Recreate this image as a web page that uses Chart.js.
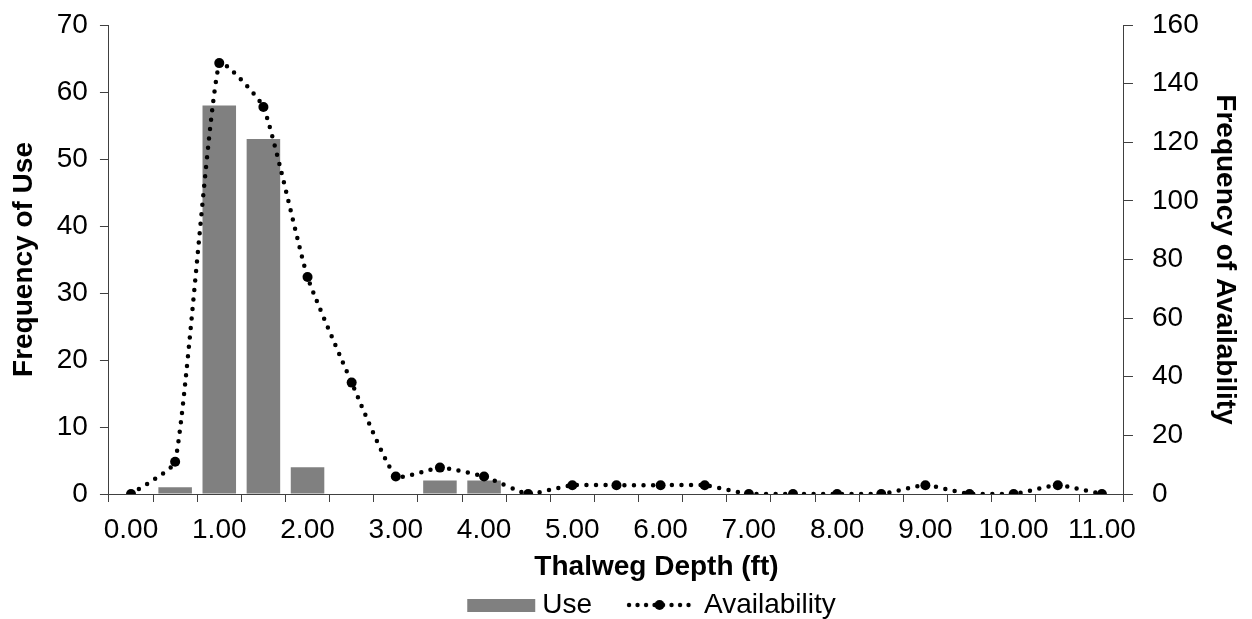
<!DOCTYPE html>
<html>
<head>
<meta charset="utf-8">
<script src="https://cdn.jsdelivr.net/npm/chart.js@4"></script>
<style>
  body { margin: 0; background: #fff; }
  canvas { display: block; }
</style>
</head>
<body>
<canvas id="chart" width="1252" height="619"></canvas>
<script>
// depth classes (ft)
const categories = ['0.00', '0.50', '1.00', '1.50', '2.00', '2.50', '3.00', '3.50', '4.00', '4.50', '5.00', '5.50',
    '6.00', '6.50', '7.00', '7.50', '8.00', '8.50', '9.00', '9.50', '10.00', '10.50', '11.00'];
const useCounts = [0, 1, 58, 53, 4, 0, 0, 2, 2, 0, 0, 0, 0, 0, 0, 0, 0, 0, 0, 0, 0, 0, 0];
const availabilityCounts = [0, 11, 147, 132, 74, 38, 6, 9, 6, 0, 3, 3, 3, 3, 0, 0, 0, 0, 3, 0, 0, 3, 0];
const leftTicks = [0, 10, 20, 30, 40, 50, 60, 70];
const rightTicks = [0, 20, 40, 60, 80, 100, 120, 140, 160];

const xTitle = 'Thalweg Depth (ft)';
const fontFamily = '"Liberation Sans", Arial, sans-serif';
const axisColor = '#404040';
const barColor = '#808080';

// legend swatches
function makeUseSwatch() {
    const c = document.createElement('canvas');
    c.width = 112;
    c.height = 14;
    const g = c.getContext('2d');
    g.fillStyle = barColor;
    g.fillRect(43, 1, 68, 13);
    return c;
}

function makeAvailSwatch() {
    const c = document.createElement('canvas');
    c.width = 112;
    c.height = 14;
    const g = c.getContext('2d');
    g.fillStyle = '#000';
    for (let x = 43; x <= 105; x += 8.5) {
        g.beginPath();
        g.arc(x, 7, 2.2, 0, Math.PI * 2);
        g.fill();
    }
    g.beginPath();
    g.arc(73.5, 7, 5, 0, Math.PI * 2);
    g.fill();
    return c;
}

const useSwatch = makeUseSwatch();
const availSwatch = makeAvailSwatch();

// nudges the legend and draws the x title off-centre like the original
const layoutTweaks = {
    id: 'layoutTweaks',
    afterLayout(chart) {
        const lg = chart.legend;
        lg.left += 9;
        lg.right += 9;
        lg.top += 10;
        lg.bottom += 10;
    },
    afterDraw(chart) {
        const x = chart.scales.x;
        const ctx = chart.ctx;
        ctx.save();
        ctx.font = 'bold 28px ' + fontFamily;
        ctx.fillStyle = '#000';
        ctx.textAlign = 'center';
        ctx.textBaseline = 'middle';
        ctx.fillText(xTitle, (x.left + x.right) / 2 + 40, x.bottom - 12);
        ctx.restore();
    }
};

const ctx = document.getElementById('chart').getContext('2d');

new Chart(ctx, {
    type: 'bar',
    data: {
        labels: categories,
        datasets: [
            {
                type: 'line',
                label: 'Availability',
                data: availabilityCounts,
                yAxisID: 'y1',
                order: 0,
                borderColor: '#000',
                borderWidth: 4.5,
                borderDash: [0, 9.5],
                borderCapStyle: 'round',
                tension: 0.15,
                pointRadius: 5,
                pointHoverRadius: 5,
                pointBackgroundColor: '#000',
                pointBorderColor: '#000',
                pointBorderWidth: 0,
                fill: false
            },
            {
                type: 'bar',
                label: 'Use',
                data: useCounts,
                yAxisID: 'y',
                order: 1,
                backgroundColor: barColor,
                borderWidth: 0,
                barPercentage: 0.76,
                categoryPercentage: 1
            }
        ]
    },
    options: {
        responsive: false,
        animation: false,
        layout: {
            padding: { top: 25, left: 2, right: 4, bottom: 0 }
        },
        plugins: {
            tooltip: { enabled: false },
            legend: {
                position: 'bottom',
                labels: {
                    color: '#000',
                    font: { size: 28, family: fontFamily },
                    padding: 2,
                    usePointStyle: true,
                    pointStyleWidth: 96,
                    generateLabels: () => [
                        { text: 'Use', pointStyle: useSwatch, fontColor: '#000', hidden: false, datasetIndex: 1, lineWidth: 0 },
                        { text: 'Availability', pointStyle: availSwatch, fontColor: '#000', hidden: false, datasetIndex: 0, lineWidth: 0 }
                    ]
                }
            }
        },
        scales: {
            x: {
                type: 'category',
                offset: true,
                grid: {
                    display: true,
                    offset: true,
                    drawOnChartArea: false,
                    drawTicks: true,
                    tickLength: 8,
                    color: axisColor
                },
                border: { display: true, color: axisColor, width: 1 },
                ticks: {
                    autoSkip: false,
                    maxRotation: 0,
                    minRotation: 0,
                    padding: 11,
                    color: '#000',
                    font: { size: 28, family: fontFamily },
                    callback: (value, index) => (index % 2 === 0 ? categories[index] : '')
                },
                afterFit: scale => {
                    // room for the axis title drawn by the plugin
                    scale.height += 21.4;
                }
            },
            y: {
                position: 'left',
                min: leftTicks[0],
                max: leftTicks[leftTicks.length - 1],
                grid: {
                    drawOnChartArea: false,
                    drawTicks: true,
                    tickLength: 9,
                    color: axisColor
                },
                border: { display: true, color: axisColor, width: 1 },
                ticks: {
                    stepSize: leftTicks[1] - leftTicks[0],
                    padding: 12,
                    color: '#000',
                    font: { size: 28, family: fontFamily, lineHeight: 0.4 }
                },
                title: {
                    display: true,
                    text: 'Frequency of Use',
                    color: '#000',
                    font: { size: 28, weight: 'bold', family: fontFamily },
                    padding: { top: 5.2, bottom: 4 }
                }
            },
            y1: {
                position: 'right',
                min: rightTicks[0],
                max: rightTicks[rightTicks.length - 1],
                grid: {
                    drawOnChartArea: false,
                    drawTicks: true,
                    tickLength: 9,
                    color: axisColor
                },
                border: { display: true, color: axisColor, width: 1 },
                ticks: {
                    stepSize: rightTicks[1] - rightTicks[0],
                    padding: 19,
                    color: '#000',
                    font: { size: 28, family: fontFamily, lineHeight: 0.4 }
                },
                title: {
                    display: true,
                    text: 'Frequency of Availability',
                    color: '#000',
                    font: { size: 28, weight: 'bold', family: fontFamily },
                    padding: { top: 6.2, bottom: -9.5 }
                }
            }
        }
    },
    plugins: [layoutTweaks]
});
</script>
</body>
</html>
